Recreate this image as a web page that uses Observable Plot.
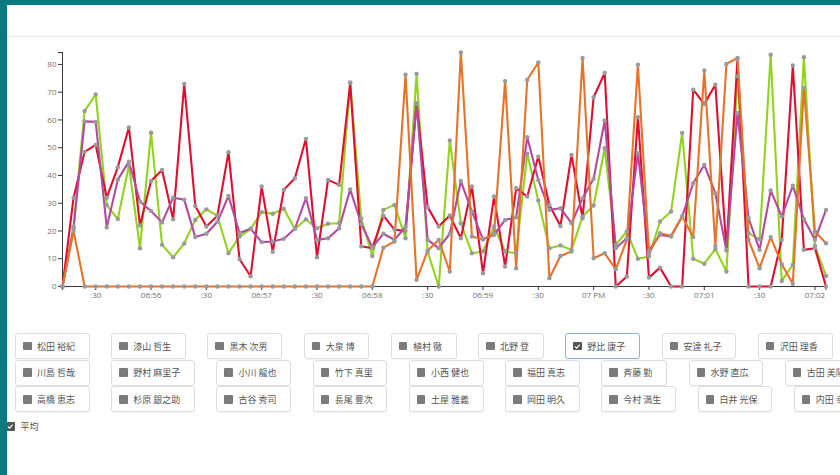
<!DOCTYPE html>
<html><head><meta charset="utf-8">
<script src="https://cdn.jsdelivr.net/npm/d3@7"></script>
<script src="https://cdn.jsdelivr.net/npm/@observablehq/plot@0.6"></script>
<style>
html,body{margin:0;padding:0;width:840px;height:475px;overflow:hidden;background:#fff;position:relative;}
#frameL{position:absolute;left:0;top:0;width:7px;height:475px;background:#077b7e;z-index:5;}
#frameT{position:absolute;left:0;top:0;width:840px;height:5px;background:#077b7e;z-index:5;}
#hline{position:absolute;left:7px;top:36px;width:833px;height:1px;background:#e6e6e6;}
#chart{position:absolute;left:0;top:40px;}
#chart svg g[aria-label$="tick label"]{fill:#6f6f6f;}
.row{position:absolute;left:15px;white-space:nowrap;height:26px;}
.btn{box-sizing:border-box;display:inline-flex;align-items:center;height:26px;border:1px solid #dedede;border-radius:3px;
 padding:0 13.8px 0 7px;margin-right:21.4px;font:9px "Noto Sans CJK JP",sans-serif;color:#555;background:#fff;
 box-shadow:0 1px 1px rgba(0,0,0,0.04);vertical-align:top;}
.btn.sel{border-color:#86b4e2;}
.cb{display:inline-block;width:8.5px;height:8.5px;background:#7b7b7b;border-radius:1px;margin-right:5.5px;position:relative;}
.cb.on{background:#555;}
.cb svg{position:absolute;left:0;top:0;}
#avg{position:absolute;left:6px;top:420px;font:9px "Noto Sans CJK JP",sans-serif;color:#555;display:flex;align-items:center;}
</style></head>
<body>
<div id="frameL"></div><div id="frameT"></div>
<div id="hline"></div>
<div id="chart"></div>
<div id="rows"></div>
<div id="avg"></div>
<script>
const times = ["18:55:12","18:55:18","18:55:24","18:55:30","18:55:36","18:55:42","18:55:48","18:55:54",
"18:56:00","18:56:06","18:56:12","18:56:18","18:56:24","18:56:30","18:56:36","18:56:42","18:56:48","18:56:54",
"18:57:00","18:57:06","18:57:12","18:57:18","18:57:24","18:57:30","18:57:36","18:57:42","18:57:48","18:57:54",
"18:58:00","18:58:06","18:58:12","18:58:18","18:58:24","18:58:30","18:58:36","18:58:42","18:58:48","18:58:54",
"18:59:00","18:59:06","18:59:12","18:59:18","18:59:24","18:59:30","18:59:36","18:59:42","18:59:48","18:59:54",
"19:00:00","19:00:06","19:00:12","19:00:18","19:00:24","19:00:30","19:00:36","19:00:42","19:00:48","19:00:54",
"19:01:00","19:01:06","19:01:12","19:01:18","19:01:24","19:01:30","19:01:36","19:01:42","19:01:48","19:01:54",
"19:02:00","19:02:06"];
const greenSeries = [0,21.5,63.2,69.2,29.3,24.3,43.6,13.8,55.4,15,
 10.5,15.5,24,27.8,25.5,12,18,20.7,26.8,26.2,
 28,20.7,24.2,21,22.6,22.8,73.5,24.5,11,27.6,
 29.4,17.4,76.6,12.5,0,52.6,22.8,12,12.6,21.6,
 12.6,12,47.8,31,13.8,14.8,13.2,25.2,29.2,49.8,
 15,19.8,10,10.8,23.4,27,55.3,10,8.2,13.5,
 5.4,75.7,19.2,17,83.5,2,7.8,82.6,14.7,3.8];
const redSeries = [0,32,48.5,51,32,43,57.3,22,38,42,
 24.2,73,29,21.6,25.5,48.4,9.8,3.7,36,12.5,
 34.8,39,53.2,10.5,38.4,36.6,73.3,14.5,13.8,25.5,
 20.5,20,66,28.6,21.6,25.6,17.4,36,4.8,32.4,
 7.2,35.4,32.4,46.8,29.4,21.8,47.4,24.6,68.2,76.9,
 0,3.6,61,3.2,6.8,0,0,70.9,65.7,72.7,
 13.2,82,0,0,0,16.8,79.6,13.2,13.8,0];
const purpleSeries = [0,21,59.5,59.3,21.3,38.5,45,30.6,27.2,23.1,
 32,31.3,17.8,19,23.3,32.6,19.3,20.8,16,16.2,
 17.2,20.8,31.8,16.8,17.4,21,35,22.5,14.2,19,
 16.8,21.5,65.8,16.8,13.8,19,38,27,17,18.6,
 24,24.9,53.8,38.4,27.6,28.2,22.8,31.8,38.8,59.8,
 13.8,17.4,48,13,18.6,18,25.2,37.2,43.8,33.6,
 13,62.5,24.6,13.2,34.6,25.2,36.3,24.3,16.8,27.6];
const orangeSeries = [0,20,0,0,0,0,0,0,0,0,
 0,0,0,0,0,0,0,0,0,0,
 0,0,0,0,0,0,0,0,0,14,
 16.2,76.3,2.4,12.9,16.8,5.4,84.3,18,17,19,
 74,6.6,74.5,80.7,3,11,12.6,82.3,10.2,12,
 6.2,16.8,79.9,12,19.2,18.3,25.2,17.8,77.8,14.7,
 80.2,82.3,16.8,6.6,17.8,8,1,71.5,19.8,15.6];
const seriesKeys = ["A","B","平均","C"];
const seriesColors = ["#93d21e","#de1032","#b24a9f","#e6732a"];
const yTicks = [0,10,20,30,40,50,60,70,80];

const row1 = ["松田 裕紀","漆山 哲生","黒木 次男","大泉 博","植村 徹","北野 登","野比 康子","安達 礼子","沢田 理香"];
const row2 = ["川島 哲哉","野村 麻里子","小川 龍也","竹下 真里","小西 健也","福田 真志","斉藤 勤","水野 直広","古田 美陽"];
const row3 = ["高橋 恵志","杉原 銀之助","古谷 秀司","長尾 豊次","土屋 雅義","岡田 明久","今村 満生","白井 光保","内田 幸恵"];
const selectedName = "野比 康子";
const avgLabel = "平均";

const parseT = s => { const [h,m,sec] = s.split(":").map(Number); return new Date(Date.UTC(2020,0,1,h,m,sec)); };
const T = times.map(parseT);
const valuesBy = [greenSeries, redSeries, purpleSeries, orangeSeries];
const rows = [];
valuesBy.forEach((arr, k) => arr.forEach((v, i) => rows.push({t: T[i], v, s: seriesKeys[k]})));
const yMax = d3.max(rows, d => d.v);
const t0 = T[0], tN = T[T.length-1];
const xTicks = [t0, ...d3.utcSecond.every(30).range(d3.utcSecond.offset(t0,1), tN), tN];
const fmt = d3.scaleUtc().tickFormat();

const chart = Plot.plot({
  width: 840, height: 270,
  marginLeft: 62, marginRight: 14.5, marginTop: 12, marginBottom: 24,
  style: {fontFamily: "'Open Sans', sans-serif", fontSize: "8px", color: "#3a3a3a", background: "transparent", overflow: "visible"},
  x: {type: "utc", domain: [t0, tN], ticks: xTicks, tickFormat: d => (+d === +t0 || +d === +tN) ? "" : fmt(d), tickSize: 4, tickPadding: 2, line: true, label: null},
  y: {domain: [0, yMax], ticks: [...yTicks, yMax], tickFormat: d => d === yMax ? "" : d, tickSize: 4, tickPadding: 2, line: true, label: null},
  color: {domain: seriesKeys, range: seriesColors},
  marks: [
    Plot.line(rows, {x: "t", y: "v", z: "s", stroke: "s", strokeWidth: 2.1}),
    Plot.dot(rows, {x: "t", y: "v", r: 2.2, fill: "#9a9a9a"})
  ]
});
document.getElementById("chart").appendChild(chart);

const checkSvg = '<svg width="8.5" height="8.5" viewBox="0 0 10 10"><path d="M2.2 5.2 L4.2 7.2 L7.9 3" fill="none" stroke="#fff" stroke-width="1.3"/></svg>';
const rowsDiv = document.getElementById("rows");
[row1,row2,row3].forEach((names, r) => {
  const div = document.createElement("div");
  div.className = "row";
  div.style.top = (333 + r*26.7) + "px";
  names.forEach(n => {
    const b = document.createElement("span");
    const sel = n === selectedName;
    b.className = "btn" + (sel ? " sel" : "");
    b.innerHTML = '<span class="cb' + (sel ? ' on' : '') + '">' + (sel ? checkSvg : '') + '</span><span>' + n + '</span>';
    div.appendChild(b);
  });
  rowsDiv.appendChild(div);
});
document.getElementById("avg").innerHTML = '<span class="cb on" style="margin-right:6px">' + checkSvg + '</span><span>' + avgLabel + '</span>';
</script>
</body></html>
